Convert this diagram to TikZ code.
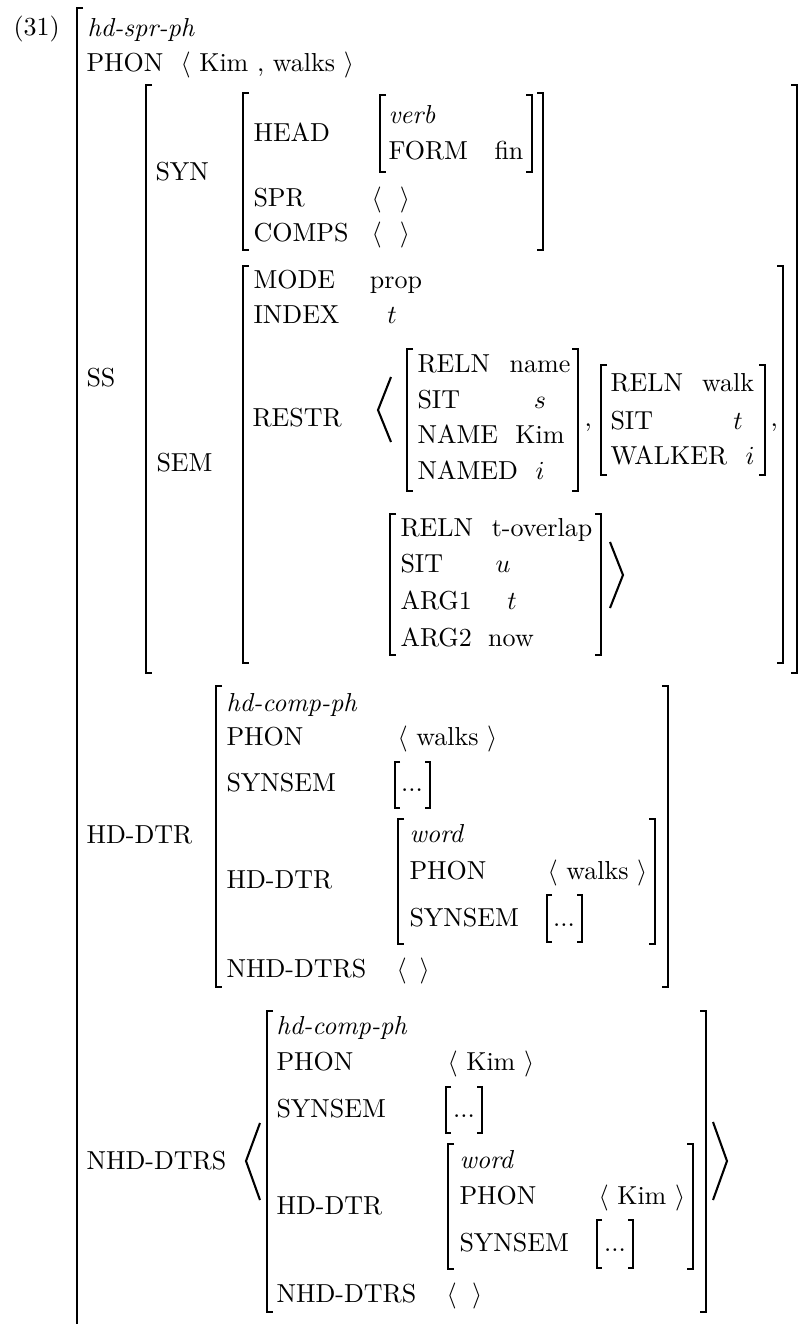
\documentclass[tikz,border=0pt]{standalone}
\usetikzlibrary{positioning}
\tikzset{
    feat/.style={inner sep=0pt, anchor=base west},
    fval/.style={inner sep=0pt, anchor=base},
    brak/.style={line width=0.45pt},
    dotbrak/.style={line width=0.4pt},
    bigangle/.style={line width=0.8pt}
}
\newcommand{\emptylist}[1][5pt]{$\langle\hspace{#1}\rangle$}

\begin{document}
\begin{tikzpicture}[x=0.3846pt, y=-0.3846pt]
\useasboundingbox (0,0) rectangle (799,1324);

% top level
\node[feat] (exnum) at (13,35) {(31)};
\node[feat] (type) at (87,36) {\textit{hd-spr-ph}};
\node[feat] (phon) at (86,71) {PHON};
\node[feat] (phonval) at (180,71) {$\langle$ Kim , walks $\rangle$};
\draw[brak] (83,8) -- (77,8) -- (77,1330);

% SS
\node[feat] (ss) at (86,386) {SS};
\draw[brak] (152,85) -| (146,673) -- ++(6,0);
\draw[brak] (791,85) -| (797,673) -- ++(-6,0);

% SYN
\node[feat] (syn) at (155,180) {SYN};
\draw[brak] (249,93) -| (243,250) -- ++(6,0);
\draw[brak] (537,93) -| (543,250) -- ++(-6,0);
\node[feat] (head) at (253,141) {HEAD};
\draw[brak] (386,95) -| (380,172) -- ++(6,0);
\draw[brak] (526,95) -| (532,172) -- ++(-6,0);
\node[feat] (verb) at (388,123) {\textit{verb}};
\node[feat] (form) at (388,159) {FORM};
\node[feat] (fin) at (494,159) {fin};
\node[feat] (spr) at (253,206) {SPR};
\node[feat] (sprval) at (371,206) {\emptylist[7pt]};
\node[feat] (comps) at (253,241) {COMPS};
\node[feat] (compsval) at (371,241) {\emptylist[7pt]};

% SEM
\node[feat] (sem) at (156,471) {SEM};
\draw[brak] (249,266) -| (243,663) -- ++(6,0);
\draw[brak] (777,266) -| (783,663) -- ++(-6,0);
\node[feat] (mode) at (253,288) {MODE};
\node[fval] (modeval) at (396,288) {prop};
\node[feat] (index) at (253,323) {INDEX};
\node[fval] (indexval) at (392,323) {$t$};
\node[feat] (restr) at (252,426) {RESTR};
\draw[bigangle] (391,377) -- (378,410) -- (391,442);

% name relation
\draw[brak] (413,349) -| (407,491) -- ++(6,0);
\draw[brak] (572,349) -| (578,491) -- ++(-6,0);
\node[feat] (nreln) at (417,372) {RELN};
\node[fval] (nrelnval) at (540,372) {name};
\node[feat] (nsit) at (417,408) {SIT};
\node[fval] (nsitval) at (540,408) {$s$};
\node[feat] (nname) at (417,443) {NAME};
\node[fval] (nnameval) at (540,443) {Kim};
\node[feat] (nnamed) at (417,479) {NAMED};
\node[fval] (nnamedval) at (540,479) {$i$};
\node[feat] (comma1) at (584,426) {,};

% walk relation
\draw[brak] (607,365) -| (601,475) -- ++(6,0);
\draw[brak] (759,365) -| (765,475) -- ++(-6,0);
\node[feat] (wreln) at (610,391) {RELN};
\node[fval] (wrelnval) at (728,391) {walk};
\node[feat] (wsit) at (610,429) {SIT};
\node[fval] (wsitval) at (738,429) {$t$};
\node[feat] (wwalker) at (610,464) {WALKER};
\node[fval] (wwalkerval) at (750,464) {$i$};
\node[feat] (comma2) at (770,426) {,};

% t-overlap relation
\draw[brak] (396,514) -| (390,655) -- ++(6,0);
\draw[brak] (595,514) -| (601,655) -- ++(-6,0);
\node[feat] (oreln) at (400,536) {RELN};
\node[fval] (orelnval) at (542,536) {t-overlap};
\node[feat] (osit) at (400,572) {SIT};
\node[fval] (ositval) at (503,572) {$u$};
\node[feat] (oarga) at (400,609) {ARG1};
\node[fval] (oargaval) at (512,609) {$t$};
\node[feat] (oargb) at (400,646) {ARG2};
\node[fval] (oargbval) at (511,646) {now};
\draw[bigangle] (610,542) -- (623,575) -- (610,608);

% HD-DTR
\node[feat] (hddtr) at (86,843) {HD-DTR};
\draw[brak] (222,686) -| (216,987) -- ++(6,0);
\draw[brak] (662,686) -| (668,987) -- ++(-6,0);
\node[feat] (htype) at (226,711) {\textit{hd-comp-ph}};
\node[feat] (hphon) at (226,745) {PHON};
\node[feat] (hphonval) at (397,745) {$\langle$ walks $\rangle$};
\node[feat] (hsynsem) at (226,791) {SYNSEM};
\draw[dotbrak] (400,762) -| (395,808) -- ++(5,0);
\draw[dotbrak] (425,762) -| (430,808) -- ++(-5,0);
\node[fval] (hsynsemval) at (412,791) {...};
\node[feat] (hhddtr) at (226,888) {HD-DTR};
\draw[brak] (404,819) -| (398,944) -- ++(6,0);
\draw[brak] (649,819) -| (655,944) -- ++(-6,0);
\node[feat] (hwtype) at (409,842) {\textit{word}};
\node[feat] (hwphon) at (409,879) {PHON};
\node[feat] (hwphonval) at (547,879) {$\langle$ walks $\rangle$};
\node[feat] (hwsynsem) at (409,926) {SYNSEM};
\draw[dotbrak] (552,895) -| (547,942) -- ++(5,0);
\draw[dotbrak] (577,895) -| (582,942) -- ++(-5,0);
\node[fval] (hwsynsemval) at (564,926) {...};
\node[feat] (hnhd) at (226,977) {NHD-DTRS};
\node[feat] (hnhdval) at (396,977) {\emptylist};

% NHD-DTRS
\node[feat] (nhd) at (86,1169) {NHD-DTRS};
\draw[bigangle] (260,1123) -- (246,1161) -- (260,1200);
\draw[brak] (273,1011) -| (267,1312) -- ++(6,0);
\draw[brak] (700,1011) -| (706,1312) -- ++(-6,0);
\draw[bigangle] (713,1122) -- (727,1161) -- (713,1200);
\node[feat] (ktype) at (276,1034) {\textit{hd-comp-ph}};
\node[feat] (kphon) at (276,1070) {PHON};
\node[feat] (kphonval) at (447,1070) {$\langle$ Kim $\rangle$};
\node[feat] (ksynsem) at (276,1117) {SYNSEM};
\draw[dotbrak] (451,1087) -| (446,1133) -- ++(5,0);
\draw[dotbrak] (477,1087) -| (482,1133) -- ++(-5,0);
\node[fval] (ksynsemval) at (464,1117) {...};
\node[feat] (khddtr) at (276,1214) {HD-DTR};
\draw[brak] (454,1144) -| (448,1269) -- ++(6,0);
\draw[brak] (687,1144) -| (693,1269) -- ++(-6,0);
\node[feat] (kwtype) at (459,1168) {\textit{word}};
\node[feat] (kwphon) at (459,1204) {PHON};
\node[feat] (kwphonval) at (598,1204) {$\langle$ Kim $\rangle$};
\node[feat] (kwsynsem) at (459,1251) {SYNSEM};
\draw[dotbrak] (602,1220) -| (597,1268) -- ++(5,0);
\draw[dotbrak] (628,1220) -| (633,1268) -- ++(-5,0);
\node[fval] (kwsynsemval) at (615,1251) {...};
\node[feat] (knhd) at (276,1302) {NHD-DTRS};
\node[feat] (knhdval) at (446,1302) {\emptylist[6pt]};
\end{tikzpicture}
\end{document}
